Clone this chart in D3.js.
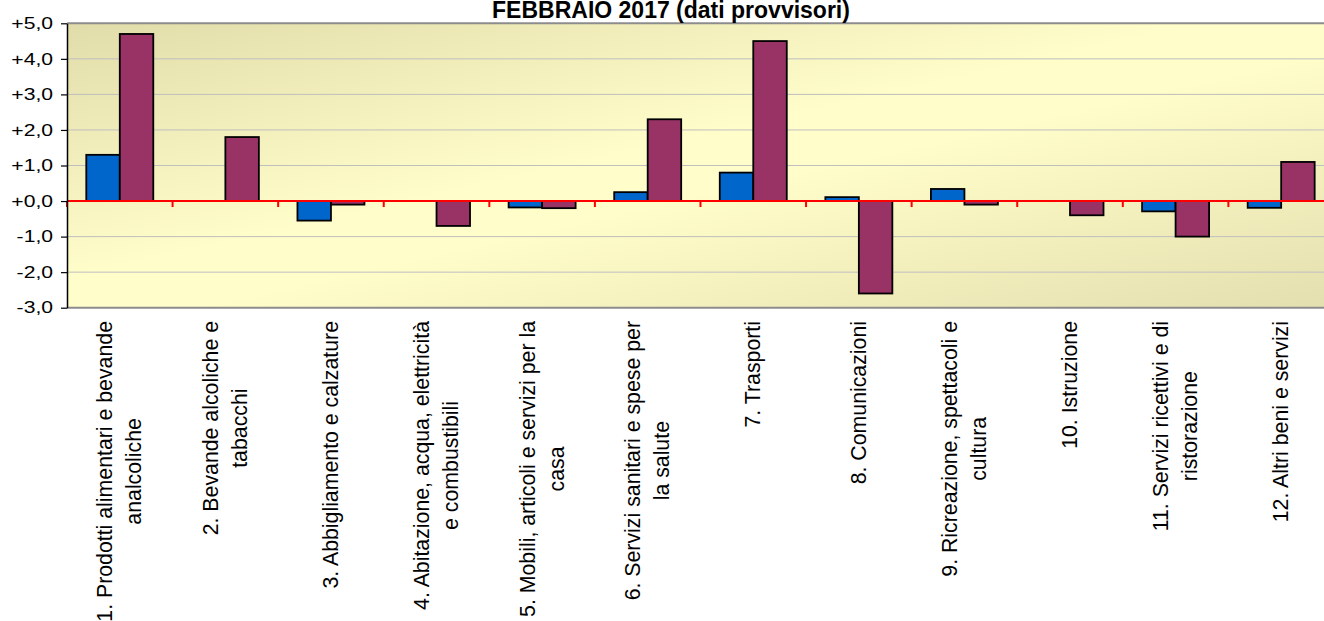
<!DOCTYPE html>
<html>
<head>
<meta charset="utf-8">
<script src="https://cdn.jsdelivr.net/npm/d3@7"></script>
<style>
  body { margin: 0; background: #fff; }
  text { font-family: "Liberation Sans", Arial, sans-serif; }
</style>
</head>
<body>
<div id="chart"></div>
<script>
const width = 1324;
const height = 621;

// categories (each entry = lines of the rotated label)
const categories = [
  ["1. Prodotti alimentari e bevande", "analcoliche"],
  ["2. Bevande alcoliche e", "tabacchi"],
  ["3. Abbigliamento e calzature"],
  ["4. Abitazione, acqua, elettricità", "e combustibili"],
  ["5. Mobili, articoli e servizi per la", "casa"],
  ["6. Servizi sanitari e spese per", "la salute"],
  ["7. Trasporti"],
  ["8. Comunicazioni"],
  ["9. Ricreazione, spettacoli e", "cultura"],
  ["10. Istruzione"],
  ["11. Servizi ricettivi e di", "ristorazione"],
  ["12. Altri beni e servizi"]
];
const congiunturale = [1.3, 0, -0.55, 0, -0.18, 0.25, 0.8, 0.11, 0.34, 0, -0.29, -0.19];
const tendenziale = [4.7, 1.8, -0.1, -0.7, -0.2, 2.3, 4.5, -2.6, -0.1, -0.4, -1.0, 1.1];
const yTicks = [-3, -2, -1, 0, 1, 2, 3, 4, 5];
const yTickLabels = ["-3,0", "-2,0", "-1,0", "+0,0", "+1,0", "+2,0", "+3,0", "+4,0", "+5,0"];
const title = "FEBBRAIO 2017 (dati provvisori)";

const plotLeft = 67, plotTop = 23.3, plotBottom = 307.7;
const plotRight = plotLeft + 12 * 105.58;   // plot runs past the window edge

const svg = d3.select("#chart").append("svg")
  .attr("width", width).attr("height", height);

const grad = svg.append("defs").append("linearGradient")
  .attr("id", "bg").attr("x1", 0).attr("y1", 0).attr("x2", 1).attr("y2", 1);
grad.append("stop").attr("offset", 0).attr("stop-color", "#e1ddaa");
grad.append("stop").attr("offset", 0.45).attr("stop-color", "#fffdca");
grad.append("stop").attr("offset", 0.55).attr("stop-color", "#fffdca");
grad.append("stop").attr("offset", 1).attr("stop-color", "#e3dfae");

const x = d3.scaleBand().domain(d3.range(categories.length)).range([plotLeft, plotRight]);
const xs = d3.scaleBand().domain(["c", "t"]).range([0, x.bandwidth()]).paddingOuter(0.576);
const y = d3.scaleLinear().domain([-3, 5]).range([plotBottom, plotTop]);

svg.append("rect")
  .attr("x", plotLeft).attr("y", plotTop)
  .attr("width", plotRight - plotLeft).attr("height", plotBottom - plotTop)
  .style("fill", "url(#bg)");

// gridlines
svg.append("g").selectAll("line")
  .data(yTicks.filter(d => d > -3 && d < 5 && d !== 0))
  .enter().append("line")
  .attr("x1", plotLeft).attr("x2", plotRight)
  .attr("y1", d => y(d)).attr("y2", d => y(d))
  .style("stroke", "#bfbfbf").style("stroke-width", 1);

// top / bottom borders
svg.append("g").selectAll("line")
  .data([5, -3])
  .enter().append("line")
  .attr("x1", plotLeft).attr("x2", plotRight)
  .attr("y1", d => y(d)).attr("y2", d => y(d))
  .style("stroke", "#8c8c8c").style("stroke-width", 2);

// bars
const groups = svg.append("g").selectAll("g")
  .data(categories.map((c, i) => ({ i, c: congiunturale[i], t: tendenziale[i] })))
  .enter().append("g")
  .attr("transform", d => `translate(${x(d.i)},0)`);

groups.selectAll("rect")
  .data(d => [{ k: "c", v: d.c }, { k: "t", v: d.t }])
  .enter().append("rect")
  .attr("x", d => xs(d.k))
  .attr("width", xs.bandwidth())
  .attr("y", d => y(Math.max(0, d.v)))
  .attr("height", d => Math.abs(y(d.v) - y(0)))
  .style("fill", d => d.k === "c" ? "#0066cc" : "#993366")
  .style("stroke", "#000").style("stroke-width", 1.8);

// zero line with category ticks
svg.append("line")
  .attr("x1", plotLeft).attr("x2", plotRight)
  .attr("y1", y(0)).attr("y2", y(0))
  .style("stroke", "#ff0000").style("stroke-width", 2);
svg.append("g").selectAll("line")
  .data(d3.range(categories.length + 1))
  .enter().append("line")
  .attr("x1", d => plotLeft + d * x.step()).attr("x2", d => plotLeft + d * x.step())
  .attr("y1", y(0)).attr("y2", y(0) + 6)
  .style("stroke", "#ff0000").style("stroke-width", 2);

// y axis
const yAxis = svg.append("g")
  .attr("transform", `translate(${plotLeft},0)`)
  .call(d3.axisLeft(y).tickValues(yTicks).tickFormat((d, i) => yTickLabels[i]).tickSize(6).tickSizeOuter(0));
yAxis.select(".domain").style("stroke", "#000").style("stroke-width", 1.5);
yAxis.selectAll(".tick line").style("stroke", "#000").style("stroke-width", 1.2);
yAxis.selectAll(".tick text")
  .attr("x", null)
  .attr("transform", "translate(-14,0) scale(1.28,1)")
  .style("font-size", "16.5px").style("fill", "#000")
  .style("font-family", "'Liberation Sans', Arial, sans-serif");

// category labels
const lineH = 29;
const labels = svg.append("g").selectAll("g")
  .data(categories)
  .enter().append("g")
  .attr("transform", (d, i) => `translate(${x(i) + x.bandwidth() / 2},320) rotate(-90)`);

labels.each(function (lines) {
  const g = d3.select(this);
  const texts = g.selectAll("text")
    .data(lines)
    .enter().append("text")
    .attr("y", (d, i) => (i - (lines.length - 1) / 2) * lineH)
    .attr("dominant-baseline", "central")
    .attr("text-anchor", "middle")
    .style("font-size", "21.3px")
    .text(d => d);
  let maxLen = 0;
  texts.each(function () { maxLen = Math.max(maxLen, this.getComputedTextLength()); });
  texts.attr("x", -maxLen / 2 - 1);
});

// title
svg.append("text")
  .attr("x", 671).attr("y", 17.5)
  .attr("text-anchor", "middle")
  .style("font-size", "23px").style("font-weight", "bold")
  .text(title);
</script>
</body>
</html>
